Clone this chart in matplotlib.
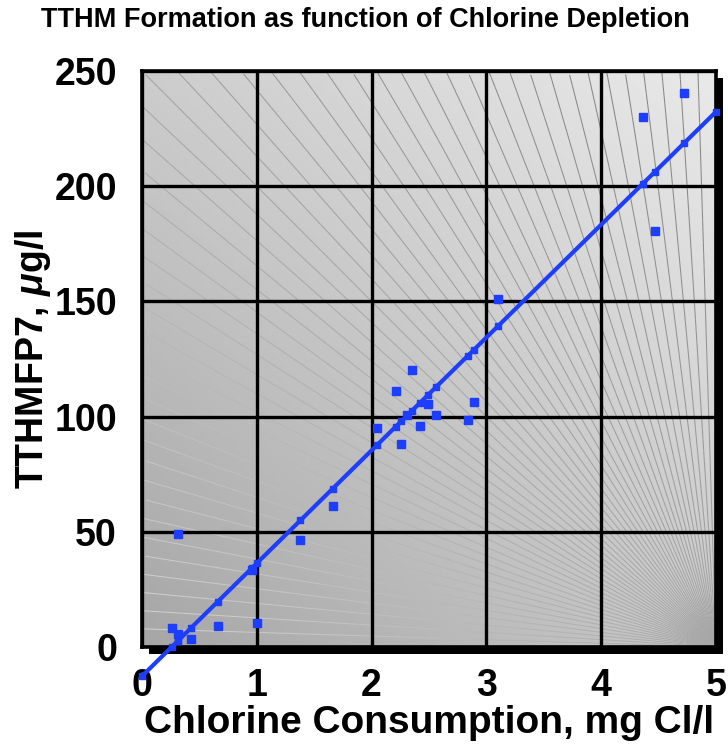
import numpy as np
import matplotlib.pyplot as plt
from matplotlib.collections import LineCollection
from matplotlib.patches import Rectangle

# Chlorine consumption (mg Cl/l) vs TTHM formation potential (ug/l)
cl_consumed = [0.31, 0.26, 0.31, 0.43, 0.66, 1.00, 0.96, 1.38, 1.66,
               2.05, 2.21, 2.35, 2.26, 2.31, 2.42, 2.49, 2.56, 2.84,
               2.89, 3.10, 4.36, 4.47, 4.72]
tthm = [48.8, 8.4, 5.8, 3.6, 9.2, 10.4, 33.3, 46.5, 61.3,
        95.1, 111.0, 120.1, 88.0, 100.6, 96.0, 105.5, 100.6, 98.6,
        106.4, 151.2, 230.2, 180.4, 240.6]

# linear regression line TTHM = slope * Cl + intercept
slope = 49.0
intercept = -12.7

xticks = [0, 1, 2, 3, 4, 5]
yticks = [0, 50, 100, 150, 200, 250]

plt.rcParams['font.family'] = ['Liberation Sans', 'DejaVu Sans']
plt.rcParams['font.weight'] = 'bold'
plt.rcParams['mathtext.fontset'] = 'custom'
plt.rcParams['mathtext.it'] = 'Liberation Sans:italic:bold'
plt.rcParams['mathtext.rm'] = 'Liberation Sans:bold'

blue = '#1d3dff'

fig = plt.figure(figsize=(7.28, 7.47), dpi=100)
ax = fig.add_axes([0.195, 0.134, 0.7885, 0.771])
ax.set_zorder(2)

# drop shadow behind the plot frame
dx, dy = 7 / 728, 7 / 747
fig.patches.append(Rectangle((0.195 + dx, 0.134 - dy), 0.7885, 0.771,
                             transform=fig.transFigure, facecolor='black',
                             edgecolor='none', zorder=1))

# gray gradient background, dark bottom-left to light top-right
n = 200
u, v = np.meshgrid(np.linspace(0, 1, n), np.linspace(0, 1, n))
bg = 166 + 34 * u + 38 * v - 5 * u * v
ax.imshow(bg / 255.0, cmap='gray', vmin=0, vmax=1, extent=[0, 1, 0, 1],
          origin='lower', transform=ax.transAxes, aspect='auto',
          interpolation='bilinear', zorder=0)

# fan of thin rays from the lower-right corner
segs, cols = [], []
t = np.linspace(0, 1.5, 80)
for ang in np.radians(np.linspace(90, 180, 51)[1:-1]):
    px = 1 + t * np.cos(ang)
    py = t * np.sin(ang)
    for i in range(len(t) - 1):
        mx, my = (px[i] + px[i + 1]) / 2, (py[i] + py[i + 1]) / 2
        if mx < 0 or my > 1:
            break
        b = 166 + 34 * mx + 38 * my - 5 * mx * my
        c = np.clip(b + (186 - b) * 2.3, 135, 228) / 255.0
        segs.append([(px[i], py[i]), (px[i + 1], py[i + 1])])
        cols.append((c, c, c))
rays = LineCollection(segs, colors=cols, linewidths=0.75,
                      transform=ax.transAxes, zorder=1)
ax.add_collection(rays)

ax.set_xlim(0, 5)
ax.set_ylim(0, 250)
ax.set_xticks(xticks)
ax.set_yticks(yticks)
ax.grid(True, color='black', linewidth=2.4, zorder=2)
ax.set_axisbelow(False)
for sp in ax.spines.values():
    sp.set_linewidth(2.6)
    sp.set_zorder(5)
ax.tick_params(length=0, labelsize=27)
ax.tick_params(axis='x', pad=15)
ax.tick_params(axis='y', pad=18)
for lab in ax.get_xticklabels() + ax.get_yticklabels():
    lab.set_fontweight('bold')

# regression line with small markers at the fitted values
fx = np.array([0.0] + sorted(cl_consumed) + [5.0])
fy = slope * fx + intercept
ax.plot(fx, fy, '-', color=blue, linewidth=3.0, marker='s', markersize=4.5,
        clip_on=False, zorder=6)

ax.plot(cl_consumed, tthm, 's', color=blue, markersize=5.5, linestyle='none',
        zorder=7)

ax.set_xlabel('Chlorine Consumption, mg Cl/l', fontsize=28,
              fontweight='bold', labelpad=1)
ax.set_ylabel(r'TTHMFP7, $\mu$g/l', fontsize=27, fontweight='bold',
              labelpad=1)
fig.suptitle('TTHM Formation as function of Chlorine Depletion', x=0.502,
             y=0.99, fontsize=19.5, fontweight='bold')

fig.savefig('out.png', dpi=100)
